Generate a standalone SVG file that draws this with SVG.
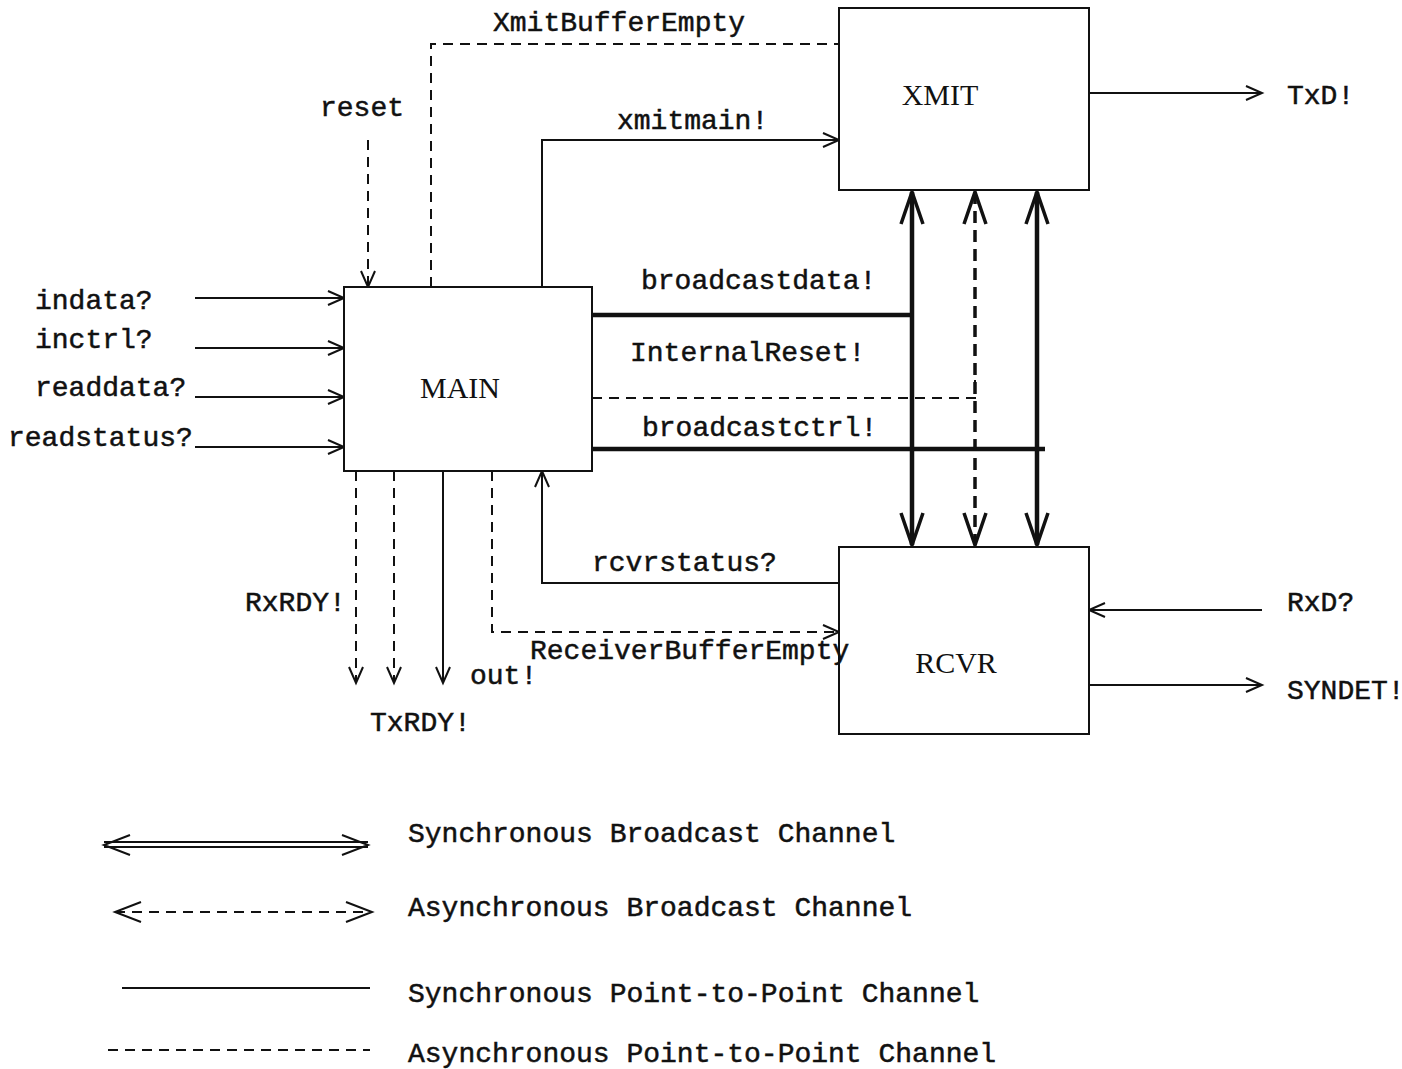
<svg xmlns="http://www.w3.org/2000/svg" width="1402" height="1069" viewBox="0 0 1402 1069">
<style>
.box{fill:#fff;stroke:#111;stroke-width:2}
.nl{font-family:"Liberation Serif","Times New Roman",serif;font-size:30px;fill:#111;text-anchor:middle}
.t{font-family:"Liberation Mono","Courier New",monospace;font-size:28px;fill:#111;stroke:#111;stroke-width:0.5}
.s{fill:none;stroke:#111;stroke-width:2}
.d{fill:none;stroke:#111;stroke-width:2;stroke-dasharray:10 7}
.k{fill:none;stroke:#111;stroke-width:4.5}
.kd{fill:none;stroke:#111;stroke-width:3.5;stroke-dasharray:12 7}
</style>
<defs>
<marker id="a" markerUnits="userSpaceOnUse" markerWidth="20" markerHeight="16" refX="16" refY="7" orient="auto" overflow="visible">
<path d="M0,0 L16,7 L0,14" fill="none" stroke="#111" stroke-width="2"/>
</marker>
<marker id="b" markerUnits="userSpaceOnUse" markerWidth="40" markerHeight="30" refX="32" refY="11" orient="auto-start-reverse" overflow="visible">
<path d="M0,0 L32,11 L0,22" fill="none" stroke="#111" stroke-width="3.5"/>
</marker>
<marker id="c" markerUnits="userSpaceOnUse" markerWidth="40" markerHeight="30" refX="26" refY="10" orient="auto-start-reverse" overflow="visible">
<path d="M0,0 L26,10 L0,20" fill="none" stroke="#111" stroke-width="2"/>
</marker>
</defs>
<g id="connectors">
<line class="s" x1="195" y1="298" x2="344" y2="298" marker-end="url(#a)"/>
<line class="s" x1="195" y1="348" x2="344" y2="348" marker-end="url(#a)"/>
<line class="s" x1="195" y1="397" x2="344" y2="397" marker-end="url(#a)"/>
<line class="s" x1="195" y1="447" x2="344" y2="447" marker-end="url(#a)"/>
<line class="d" x1="368" y1="140" x2="368" y2="287" marker-end="url(#a)"/>
<polyline class="d" points="431,287 431,44 839,44"/>
<polyline class="s" points="542,287 542,140 839,140" marker-end="url(#a)"/>
<line class="k" x1="592" y1="315" x2="912" y2="315"/>
<polyline class="d" points="592,398 975,398 975,380"/>
<line class="k" x1="592" y1="449" x2="1045" y2="449"/>
<line class="k" x1="912" y1="192" x2="912" y2="545" marker-start="url(#b)" marker-end="url(#b)"/>
<line class="kd" x1="975" y1="192" x2="975" y2="545" marker-start="url(#b)" marker-end="url(#b)"/>
<line class="k" x1="1037" y1="192" x2="1037" y2="545" marker-start="url(#b)" marker-end="url(#b)"/>
<polyline class="s" points="839,583 542,583 542,471" marker-end="url(#a)"/>
<polyline class="d" points="492,471 492,632 839,632" marker-end="url(#a)"/>
<line class="d" x1="356" y1="471" x2="356" y2="683" marker-end="url(#a)"/>
<line class="d" x1="394" y1="471" x2="394" y2="683" marker-end="url(#a)"/>
<line class="s" x1="443" y1="471" x2="443" y2="683" marker-end="url(#a)"/>
<line class="s" x1="1089" y1="93" x2="1262" y2="93" marker-end="url(#a)"/>
<line class="s" x1="1262" y1="610" x2="1089" y2="610" marker-end="url(#a)"/>
<line class="s" x1="1089" y1="685" x2="1262" y2="685" marker-end="url(#a)"/>
</g>
<g id="main"><rect class="box" x="344" y="287" width="248" height="184"/><text class="nl" x="460" y="398">MAIN</text></g>
<g id="xmit"><rect class="box" x="839" y="8" width="250" height="182"/><text class="nl" x="940" y="105">XMIT</text></g>
<g id="rcvr"><rect class="box" x="839" y="547" width="250" height="187"/><text class="nl" x="956" y="673">RCVR</text></g>
<g id="labels">
<text class="t" x="493" y="31">XmitBufferEmpty</text>
<text class="t" x="320" y="116">reset</text>
<text class="t" x="617" y="129">xmitmain!</text>
<text class="t" x="641" y="289">broadcastdata!</text>
<text class="t" x="630" y="361">InternalReset!</text>
<text class="t" x="642" y="436">broadcastctrl!</text>
<text class="t" x="35" y="309">indata?</text>
<text class="t" x="35" y="348">inctrl?</text>
<text class="t" x="35" y="396">readdata?</text>
<text class="t" x="8" y="446">readstatus?</text>
<text class="t" x="245" y="611">RxRDY!</text>
<text class="t" x="370" y="731">TxRDY!</text>
<text class="t" x="470" y="684">out!</text>
<text class="t" x="592" y="571">rcvrstatus?</text>
<text class="t" x="530" y="659">ReceiverBufferEmpty</text>
<text class="t" x="1287" y="104">TxD!</text>
<text class="t" x="1287" y="611">RxD?</text>
<text class="t" x="1287" y="699">SYNDET!</text>
</g>
<g id="legend">
<line class="s" x1="104" y1="842" x2="368" y2="842"/>
<line class="s" x1="104" y1="847" x2="368" y2="847"/>
<line x1="104" y1="845" x2="368" y2="845" stroke="none" marker-start="url(#c)" marker-end="url(#c)"/>
<line class="d" x1="115" y1="912" x2="372" y2="912" marker-start="url(#c)" marker-end="url(#c)"/>
<line class="s" x1="122" y1="988" x2="370" y2="988"/>
<line class="d" x1="108" y1="1050" x2="370" y2="1050"/>
<text class="t" x="408" y="842">Synchronous Broadcast Channel</text>
<text class="t" x="408" y="916">Asynchronous Broadcast Channel</text>
<text class="t" x="408" y="1002">Synchronous Point-to-Point Channel</text>
<text class="t" x="408" y="1062">Asynchronous Point-to-Point Channel</text>
</g>
</svg>
